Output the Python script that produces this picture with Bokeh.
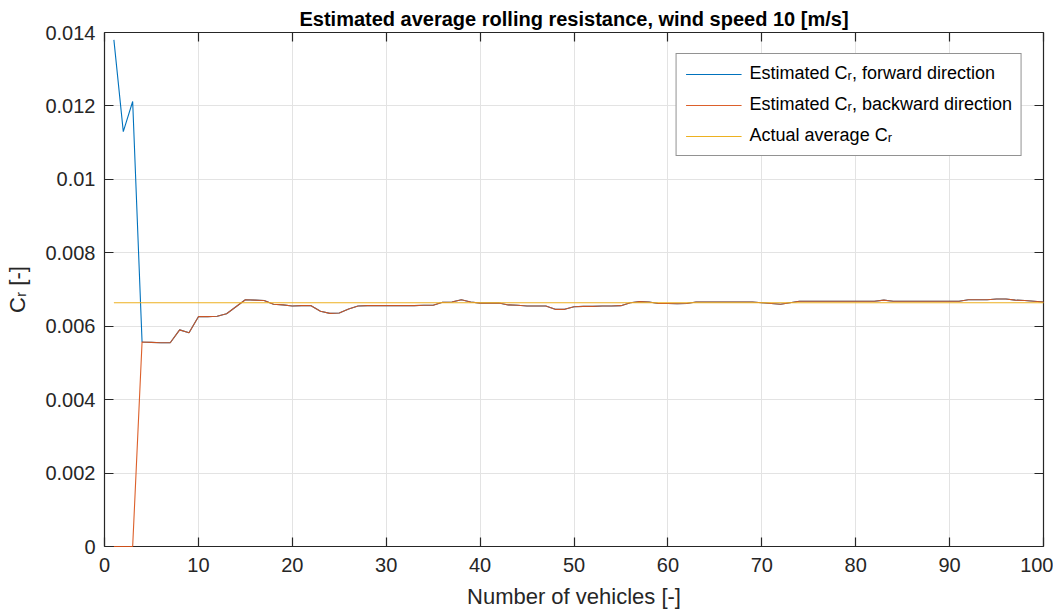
from bokeh.plotting import figure
from bokeh.models import Range1d, LinearAxis, FixedTicker, Legend, LegendItem
from bokeh.embed import file_html
from bokeh.resources import INLINE

# ---------------- data ----------------
vehicles = list(range(1, 101))

forward = [
    0.01380, 0.01130, 0.01212, 0.00557, 0.00556, 0.00555, 0.00555, 0.00590, 0.00582, 0.00626,
    0.00626, 0.00627, 0.00634, 0.00653, 0.00672, 0.00671, 0.00670, 0.00660, 0.00658, 0.00655,
    0.00656, 0.00656, 0.00641, 0.00635, 0.00636, 0.00647, 0.00655, 0.00656, 0.00656, 0.00656,
    0.00656, 0.00656, 0.00656, 0.00657, 0.00657, 0.00665, 0.00666, 0.00672, 0.00666, 0.00663,
    0.00663, 0.00663, 0.00658, 0.00657, 0.00655, 0.00655, 0.00655, 0.00646, 0.00646, 0.00653,
    0.00654, 0.00654, 0.00655, 0.00655, 0.00656, 0.00664, 0.00667, 0.00666, 0.00662, 0.00662,
    0.00661, 0.00662, 0.00666, 0.00666, 0.00666, 0.00666, 0.00666, 0.00666, 0.00666, 0.00664,
    0.00662, 0.00660, 0.00664, 0.00668, 0.00668, 0.00668, 0.00668, 0.00668, 0.00668, 0.00668,
    0.00668, 0.00668, 0.00671, 0.00668, 0.00668, 0.00668, 0.00668, 0.00668, 0.00668, 0.00668,
    0.00668, 0.00672, 0.00672, 0.00672, 0.00674, 0.00674, 0.00671, 0.00670, 0.00668, 0.00666,
]

backward = [
    0.00000, 0.00000, 0.00000, 0.00557, 0.00556, 0.00555, 0.00555, 0.00590, 0.00582, 0.00626,
    0.00626, 0.00627, 0.00634, 0.00653, 0.00672, 0.00671, 0.00670, 0.00660, 0.00658, 0.00655,
    0.00656, 0.00656, 0.00641, 0.00635, 0.00636, 0.00647, 0.00655, 0.00656, 0.00656, 0.00656,
    0.00656, 0.00656, 0.00656, 0.00657, 0.00657, 0.00665, 0.00666, 0.00672, 0.00666, 0.00663,
    0.00663, 0.00663, 0.00658, 0.00657, 0.00655, 0.00655, 0.00655, 0.00646, 0.00646, 0.00653,
    0.00654, 0.00654, 0.00655, 0.00655, 0.00656, 0.00664, 0.00667, 0.00666, 0.00662, 0.00662,
    0.00661, 0.00662, 0.00666, 0.00666, 0.00666, 0.00666, 0.00666, 0.00666, 0.00666, 0.00664,
    0.00662, 0.00660, 0.00664, 0.00668, 0.00668, 0.00668, 0.00668, 0.00668, 0.00668, 0.00668,
    0.00668, 0.00668, 0.00671, 0.00668, 0.00668, 0.00668, 0.00668, 0.00668, 0.00668, 0.00668,
    0.00668, 0.00672, 0.00672, 0.00672, 0.00674, 0.00674, 0.00671, 0.00670, 0.00668, 0.00666,
]

actual_avg = 0.00664

x_ticks = [0, 10, 20, 30, 40, 50, 60, 70, 80, 90, 100]
y_ticks = [0, 0.002, 0.004, 0.006, 0.008, 0.01, 0.012, 0.014]
y_tick_labels = ["0", "0.002", "0.004", "0.006", "0.008", "0.01", "0.012", "0.014"]

series_labels = [
    "Estimated C\u1d63, forward direction",
    "Estimated C\u1d63, backward direction",
    "Actual average C\u1d63",
]

# ---------------- style ----------------
FONT = "Liberation Sans"
AX = "#262626"
BLUE, ORANGE, YELLOW = "#0072BD", "#D95319", "#EDB120"

p = figure(
    width=1053, height=612,
    x_range=Range1d(0, 100), y_range=Range1d(0, 0.014),
    output_backend="svg", toolbar_location=None,
    min_border_left=104, min_border_right=10,
    min_border_top=32, min_border_bottom=66,
    title="Estimated average rolling resistance, wind speed 10 [m/s]",
)
p.title.text_font = FONT
p.title.text_font_size = "20px"
p.title.text_font_style = "bold"
p.title.text_color = "#000000"
p.title.align = "center"
p.title.standoff = 2
p.title.vertical_align = "top"
p.outline_line_color = None
p.background_fill_color = "white"
p.border_fill_color = "white"

def style_axis(ax, ticks, show_labels=True):
    ax.ticker = FixedTicker(ticks=ticks)
    ax.major_tick_in = 9
    ax.major_tick_out = 0
    ax.minor_tick_line_color = None
    ax.axis_line_color = AX
    ax.axis_line_width = 1.2
    ax.major_tick_line_color = AX
    ax.major_tick_line_width = 1.2
    ax.major_label_text_font = FONT
    ax.major_label_text_color = AX
    if not show_labels:
        ax.major_label_overrides = {t: "" for t in ticks}
        ax.major_label_text_font_size = "0px"
        ax.major_label_standoff = 0

xa = p.xaxis[0]
ya = p.yaxis[0]
style_axis(xa, x_ticks)
style_axis(ya, y_ticks)
xa.major_label_text_font_size = "20px"
ya.major_label_text_font_size = "20px"
xa.major_label_standoff = 11
ya.major_label_standoff = 9
ya.major_label_overrides = {t: s for t, s in zip(y_ticks, y_tick_labels)}

xa.axis_label = "Number of vehicles [-]"
ya.axis_label = "C\u1d63 [-]"
for ax in (xa, ya):
    ax.axis_label_text_font = FONT
    ax.axis_label_text_font_size = "22px"
    ax.axis_label_text_font_style = "normal"
    ax.axis_label_text_color = AX
xa.axis_label_standoff = 9
ya.axis_label_standoff = 12

top = LinearAxis()
style_axis(top, x_ticks, show_labels=False)
p.add_layout(top, "above")
right = LinearAxis()
style_axis(right, y_ticks, show_labels=False)
p.add_layout(right, "right")

p.xgrid.ticker = FixedTicker(ticks=x_ticks)
p.ygrid.ticker = FixedTicker(ticks=y_ticks)
p.grid.grid_line_color = "#e3e3e3"
p.grid.grid_line_width = 1

r_fwd = p.line(vehicles, forward, line_color=BLUE, line_width=1.1)
r_bwd = p.line(vehicles, backward, line_color=ORANGE, line_width=1.1,
               line_alpha=0.92, level="annotation")
r_act = p.line([vehicles[0], vehicles[-1]], [actual_avg, actual_avg],
               line_color=YELLOW, line_width=1.1, level="annotation")

legend = Legend(
    items=[
        LegendItem(label=series_labels[0], renderers=[r_fwd]),
        LegendItem(label=series_labels[1], renderers=[r_bwd]),
        LegendItem(label=series_labels[2], renderers=[r_act]),
    ],
    location="top_right",
    margin=21,
    padding=9,
    spacing=10,
    glyph_width=56,
    glyph_height=20,
    label_height=20,
    label_standoff=8,
    label_text_font=FONT,
    label_text_font_size="18px",
    label_text_color="#000000",
    border_line_color=AX,
    border_line_width=1,
    background_fill_color="white",
    background_fill_alpha=1,
)
p.add_layout(legend)

open("out.html", "w").write(file_html(p, INLINE))
